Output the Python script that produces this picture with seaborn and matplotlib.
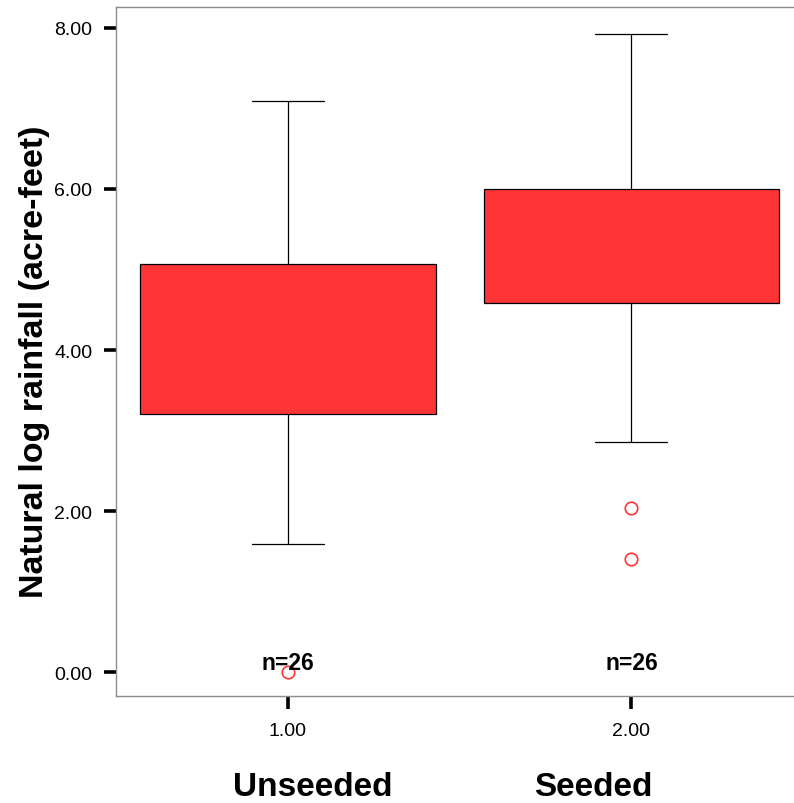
import numpy as np
import pandas as pd
import matplotlib
matplotlib.use("Agg")
import matplotlib.pyplot as plt
import matplotlib.transforms as mtransforms
import seaborn as sns

unseeded = [7.09, 6.72, 5.92, 5.85, 5.77, 5.50, 5.09, 5.00, 4.55, 4.47, 4.40, 4.23, 3.86,
            3.72, 3.60, 3.37, 3.35, 3.27, 3.26, 3.19, 3.08, 2.85, 2.44, 1.59, 1.59, 0.00]
seeded = [7.92, 7.44, 7.41, 6.89, 6.56, 6.19, 6.06, 5.81, 5.71, 5.62, 5.62, 5.54, 5.49,
          5.30, 5.29, 4.86, 4.78, 4.77, 4.75, 4.53, 3.70, 3.49, 3.45, 2.86, 2.04, 1.41]
group_codes = ["1.00", "2.00"]
group_names = ["Unseeded", "Seeded"]
y_ticks = [0, 2, 4, 6, 8]

df = pd.DataFrame({
    "group": [group_codes[0]] * len(unseeded) + [group_codes[1]] * len(seeded),
    "rain": unseeded + seeded,
})
counts = df.groupby("group")["rain"].count()

sns.set_style("white")
plt.rcParams["font.family"] = ["Liberation Sans", "DejaVu Sans"]
plt.rcParams["text.color"] = "black"
plt.rcParams["axes.labelcolor"] = "black"

red = "#ff3434"
fig = plt.figure(figsize=(7.94, 8.04), dpi=100)
ax = fig.add_axes([0.146, 0.133, 0.856, 0.857])

sns.boxplot(data=df, x="group", y="rain", order=group_codes, color=red, saturation=1,
            width=0.86, linecolor="black", linewidth=0.9, fliersize=9,
            flierprops={"marker": "o", "markerfacecolor": "none",
                        "markeredgecolor": red, "markeredgewidth": 1.2},
            medianprops={"visible": False}, capwidths=0.21, ax=ax)

ax.set_xlim(-0.501, 1.478)
ax.set_ylim(-0.298, 8.26)
ax.set_yticks(y_ticks)
ax.set_yticklabels([f"{v:.2f}" for v in y_ticks])
ax.set_xticks(range(len(group_codes)))
ax.set_xticklabels(group_codes)

for s in ax.spines.values():
    s.set_color("#8c8c8c")
    s.set_linewidth(1.0)

ax.tick_params(axis="both", which="major", bottom=True, left=True, direction="out",
               length=9, width=2.6, color="black", labelcolor="black", labelsize=14)
ax.tick_params(axis="y", pad=8)
ax.tick_params(axis="x", pad=10)

ax.set_xlabel("")
ax.set_ylabel("Natural log rainfall (acre-feet)", fontsize=24.5, fontweight="bold")
ax.yaxis.set_label_coords(-0.097, 0.486)

for i, g in enumerate(group_codes):
    ax.text(i, 0.12, f"n={counts[g]}", ha="center", va="center",
            fontsize=16.5, fontweight="bold")

trans = mtransforms.blended_transform_factory(ax.transData, fig.transFigure)
for xpos, name in zip([0.073, 0.889], group_names):
    ax.text(xpos, 0.021, name, transform=trans, ha="center", va="center",
            fontsize=24, fontweight="bold")

fig.savefig("out.png", dpi=100)
